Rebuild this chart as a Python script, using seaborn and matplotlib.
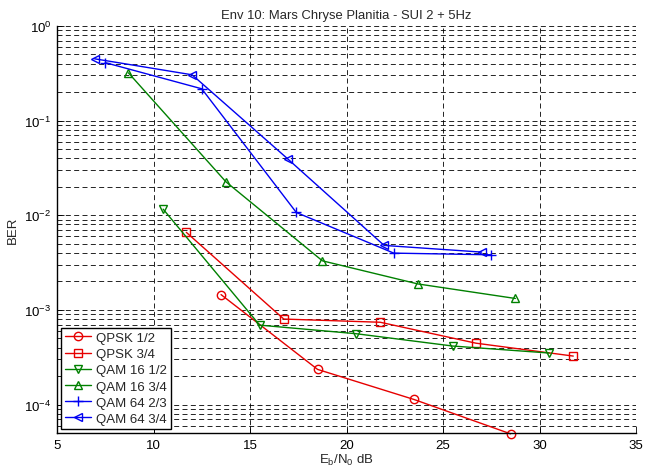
import matplotlib
matplotlib.use("Agg")
import matplotlib.pyplot as plt
import seaborn as sns
import numpy as np
import pandas as pd
from matplotlib.ticker import LogLocator, NullFormatter, FixedLocator

# ---- data ----
qpsk12_x = [13.5, 18.5, 23.5, 28.5]
qpsk12_y = [1.45e-3, 2.35e-4, 1.13e-4, 4.9e-5]

qpsk34_x = [11.7, 16.75, 21.75, 26.7, 31.75]
qpsk34_y = [6.6e-3, 8.0e-4, 7.4e-4, 4.45e-4, 3.25e-4]

qam1612_x = [10.5, 15.5, 20.5, 25.5, 30.5]
qam1612_y = [1.16e-2, 6.9e-4, 5.6e-4, 4.15e-4, 3.5e-4]

qam1634_x = [8.7, 13.75, 18.75, 23.7, 28.75]
qam1634_y = [0.32, 2.26e-2, 3.3e-3, 1.88e-3, 1.32e-3]

qam6423_x = [7.5, 12.5, 17.4, 22.45, 27.5]
qam6423_y = [0.41, 0.217, 1.07e-2, 3.98e-3, 3.82e-3]

qam6434_x = [6.95, 12.0, 16.95, 21.95, 27.0]
qam6434_y = [0.45, 0.305, 3.95e-2, 4.8e-3, 4.08e-3]

series_names = ["QPSK 1/2", "QPSK 3/4", "QAM 16 1/2", "QAM 16 3/4", "QAM 64 2/3", "QAM 64 3/4"]
series_x = [qpsk12_x, qpsk34_x, qam1612_x, qam1634_x, qam6423_x, qam6434_x]
series_y = [qpsk12_y, qpsk34_y, qam1612_y, qam1634_y, qam6423_y, qam6434_y]

title_text = "Env 10: Mars Chryse Planitia - SUI 2 + 5Hz"
x_ticks = [5, 10, 15, 20, 25, 30, 35]

# ---- styles ----
red = (0.9, 0.0, 0.0)
green = (0.0, 0.5, 0.0)
blue = (0.0, 0.0, 0.95)
colors = [red, red, green, green, blue, blue]
markers = ["o", "s", "v", "^", "+", "<"]

sns.set_theme(style="white")
plt.rcParams["font.family"] = ["Liberation Sans", "DejaVu Sans"]
plt.rcParams["mathtext.default"] = "regular"

fig = plt.figure(figsize=(6.57, 4.77), dpi=100)
ax = fig.add_axes([57 / 657, 1 - 434 / 477, (636 - 57) / 657, (434 - 27) / 477])

for name, xs, ys, c, m in zip(series_names, series_x, series_y, colors, markers):
    df = pd.DataFrame({"x": xs, "y": ys})
    sns.lineplot(data=df, x="x", y="y", ax=ax, color=c, marker=m,
                 markersize=6 if m != "+" else 7, markerfacecolor="none",
                 markeredgecolor=c, markeredgewidth=1.0, linewidth=1.0,
                 label=name, clip_on=False, sort=False, estimator=None)

ax.set_yscale("log")
ax.set_xlim(5, 35)
ax.set_ylim(5e-5, 1)
ax.xaxis.set_major_locator(FixedLocator(x_ticks))
ax.yaxis.set_major_locator(LogLocator(base=10, numticks=10))
ax.yaxis.set_minor_locator(LogLocator(base=10, subs=np.arange(2, 10), numticks=20))
ax.yaxis.set_minor_formatter(NullFormatter())

grid_kw = dict(color="black", linestyle=(0, (6, 4)), linewidth=0.6)
ax.grid(True, which="major", axis="both", **grid_kw)
ax.grid(True, which="minor", axis="y", **grid_kw)
ax.set_axisbelow(True)

for s in ["top", "right"]:
    ax.spines[s].set_visible(False)
for s in ["left", "bottom"]:
    ax.spines[s].set_color("black")
    ax.spines[s].set_linewidth(1.0)

ax.tick_params(axis="both", which="major", direction="in", length=5, width=0.6,
               labelsize=9.5, colors="black", left=True, bottom=True, pad=4)
ax.tick_params(axis="y", which="minor", direction="in", length=3, width=0.6, left=True)

ax.set_title(title_text, fontsize=9.4, pad=6)
ax.set_xlabel(r"E$_b$/N$_0$ dB", fontsize=9.5, labelpad=1)
ax.set_ylabel("BER", fontsize=9.5, labelpad=4)

leg = ax.legend(loc="lower left", frameon=True, fontsize=9.5, numpoints=1,
                handlelength=2.0, borderaxespad=0.3, handletextpad=0.35,
                labelspacing=0.3, borderpad=0.3, fancybox=False)
leg.get_frame().set_edgecolor("black")
leg.get_frame().set_linewidth(1.0)
leg.get_frame().set_alpha(1.0)

fig.savefig("out.png", dpi=100)
